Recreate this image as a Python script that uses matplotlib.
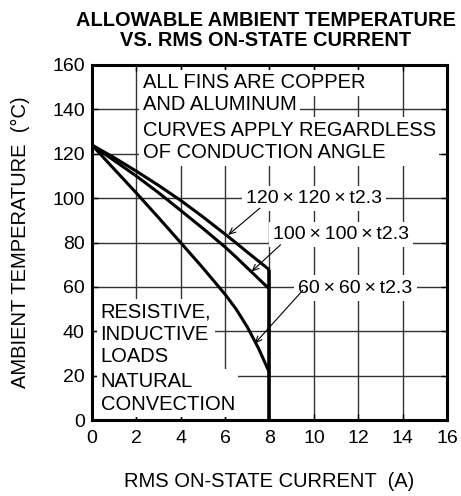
import matplotlib
matplotlib.use("Agg")
import matplotlib.pyplot as plt

plt.rcParams['font.family'] = ['Liberation Sans', 'DejaVu Sans']

# data
current = [0, 1, 2, 3, 4, 5, 6, 6.5, 7, 7.5, 8]
temp_120 = [124, 118.3, 112.2, 105.8, 99, 91.6, 83.8, 79.8, 75.7, 71.7, 67.7]
temp_100 = [124, 117, 110, 102.5, 94.5, 86.4, 78, 73.4, 68.6, 63.8, 59]
temp_60 = [124, 113.2, 102.4, 91.3, 80, 68.6, 56.7, 50.0, 42.0, 32.5, 21.4]

fin_labels = ["120\u2009\u00d7\u2009120\u2009\u00d7\u2009t2.3",
              "100\u2009\u00d7\u2009100\u2009\u00d7\u2009t2.3",
              "60\u2009\u00d7\u200960\u2009\u00d7\u2009t2.3"]
label_pos = [(10.0, 100.0), (11.23, 83.8), (11.87, 59.5)]
arrow_tail = [(7.57, 95.5), (8.5, 79.0), (9.5, 58.5)]
arrow_tip = [(6.14, 83.4), (7.19, 66.9), (7.34, 34.5)]

xticks = list(range(0, 17, 2))
yticks = list(range(0, 161, 20))

fig = plt.figure(figsize=(4.61, 4.96), dpi=100)
ax = fig.add_axes([0.199, 0.153, 0.771, 0.716])

ax.set_xlim(0, 16)
ax.set_ylim(0, 160)
ax.set_xticks(xticks)
ax.set_yticks(yticks)
ax.grid(True, color='0.2', lw=1.0, zorder=0)
ax.set_axisbelow(True)
ax.tick_params(direction='in', top=True, right=True, length=4, width=1,
               labelsize=14, pad=5)
ax.tick_params(axis='x', pad=7)
for sp in ax.spines.values():
    sp.set_linewidth(2.2)

# curves
for ys in (temp_120, temp_100, temp_60):
    ax.plot(current, ys, color='black', lw=2.2, zorder=5, solid_capstyle='butt')
ax.vlines(current[-1], 0, max(temp_120[-1], temp_100[-1], temp_60[-1]),
          color='black', lw=2.6, zorder=5)

box = dict(facecolor='white', edgecolor='none', pad=2.5)
fs = 14.5

# notes
ax.text(2.3, 152, "ALL FINS ARE COPPER", fontsize=fs, va='center', ha='left',
        bbox=box, zorder=3)
ax.text(2.3, 142.2, "AND ALUMINUM", fontsize=fs, va='center', ha='left',
        bbox=dict(facecolor='white', edgecolor='none', pad=2.5), zorder=3)
ax.text(2.3, 125.5, "CURVES APPLY REGARDLESS\nOF CONDUCTION ANGLE", fontsize=fs,
        va='center', ha='left', linespacing=1.23, bbox=box, zorder=3)
ax.text(0.4, 38.7, "RESISTIVE,\nINDUCTIVE\nLOADS", fontsize=fs,
        va='center', ha='left', linespacing=1.24, bbox=box, zorder=3)
ax.text(0.4, 12.1, "NATURAL\nCONVECTION", fontsize=fs,
        va='center', ha='left', linespacing=1.24, bbox=box, zorder=3)

# fin size labels with leader arrows
for lab, pos, tail, tip in zip(fin_labels, label_pos, arrow_tail, arrow_tip):
    ax.text(pos[0], pos[1], lab, fontsize=14, ha='center', va='center',
            bbox=dict(facecolor='white', edgecolor='none', pad=3), zorder=3)
    ax.annotate('', xy=tip, xytext=tail,
                arrowprops=dict(arrowstyle='->,head_length=0.45,head_width=0.2',
                                lw=0.8, color='black', shrinkA=0, shrinkB=0),
                zorder=6)

ax.set_title("ALLOWABLE AMBIENT TEMPERATURE\nVS. RMS ON-STATE CURRENT",
             fontsize=14.4, fontweight='bold', linespacing=1.05, pad=14, x=0.49)
ax.set_xlabel("RMS ON-STATE CURRENT  (A)", fontsize=14.5, labelpad=18)
ax.set_ylabel("AMBIENT TEMPERATURE  (\u00b0C)", fontsize=14.5, labelpad=16)

fig.savefig("out.png", dpi=100)
